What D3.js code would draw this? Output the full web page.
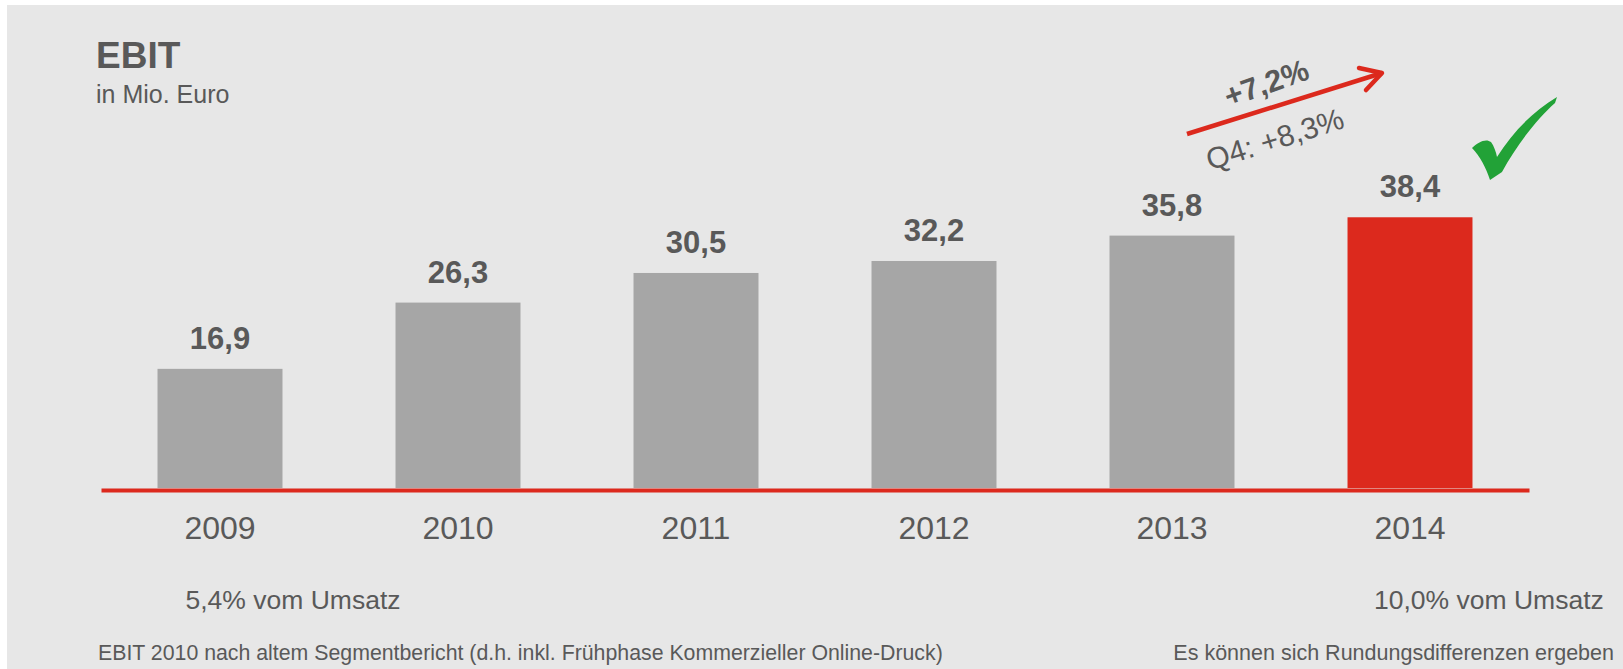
<!DOCTYPE html>
<html>
<head>
<meta charset="utf-8">
<script src="https://cdn.jsdelivr.net/npm/d3@7"></script>
<style>
  body{margin:0;background:#fff;}
  svg{display:block;font-family:"Liberation Sans",Arial,sans-serif;}
</style>
</head>
<body>
<script>
var years=["2009","2010","2011","2012","2013","2014"]
var ebit=[16.9,26.3,30.5,32.2,35.8,38.4]
var labels=["16,9","26,3","30,5","32,2","35,8","38,4"]
var highlight="2014"
var shareNotes=[{year:"2009",text:"5,4% vom Umsatz"},{year:"2014",text:"10,0% vom Umsatz"}]
var growth="+7,2%"
var growthQ4="Q4: +8,3%"
var screen={width:1623,height:669}

var svg=d3.select("body")
          .append("svg")
          .attr("width",screen.width)
          .attr("height",screen.height)

// grey panel
svg.append("rect")
   .attr("x",7)
   .attr("y",5)
   .attr("width",screen.width-7)
   .attr("height",screen.height-5)
   .attr("fill","#e7e7e7")

var x=d3.scaleBand()
        .domain(years)
        .range([101,1529])
        .paddingInner(0.475)
        .paddingOuter(0.2375)
var y=d3.scaleLinear()
        .domain([0,40])
        .range([488,206])

svg.selectAll("rect.bar")
   .data(years)
   .enter()
   .append("rect")
   .attr("class","bar")
   .attr("x",function(d){return x(d)})
   .attr("width",x.bandwidth())
   .attr("y",function(d,i){return y(ebit[i])})
   .attr("height",function(d,i){return y(0)-y(ebit[i])})
   .attr("fill",function(d){
     if(d==highlight){return "#dc291d"}
     else{return "#a6a6a6"}
   })

svg.selectAll("text.val")
   .data(years)
   .enter()
   .append("text")
   .attr("class","val")
   .attr("x",function(d){return x(d)+x.bandwidth()/2})
   .attr("y",function(d,i){return y(ebit[i])-20})
   .attr("text-anchor","middle")
   .attr("font-size","31px")
   .attr("font-weight","bold")
   .attr("fill","#595959")
   .text(function(d,i){return labels[i]})

// red baseline + year labels
var axis=svg.append("g")
            .attr("transform","translate(0,490)")
            .call(d3.axisBottom(x).tickSize(0).tickSizeOuter(0).tickPadding(26))
axis.select(".domain")
    .attr("stroke","#dc291d")
    .attr("stroke-width",4)
axis.selectAll("text")
    .attr("font-size","32px")
    .attr("font-family","Liberation Sans, Arial, sans-serif")
    .attr("fill","#595959")

svg.selectAll("text.share")
   .data(shareNotes)
   .enter()
   .append("text")
   .attr("class","share")
   .attr("x",function(d){
     if(d.year==highlight){return x(d.year)+x.bandwidth()/2-36}
     else{return x(d.year)+28}
   })
   .attr("y",609)
   .attr("font-size","26.5px")
   .attr("fill","#595959")
   .text(function(d){return d.text})

// title
svg.append("text")
   .attr("x",96)
   .attr("y",68)
   .attr("font-size","37px")
   .attr("font-weight","bold")
   .attr("fill","#595959")
   .text("EBIT")
svg.append("text")
   .attr("x",96)
   .attr("y",103)
   .attr("font-size","25px")
   .attr("fill","#595959")
   .text("in Mio. Euro")

// footnotes
svg.append("text")
   .attr("x",98)
   .attr("y",660)
   .attr("font-size","21.3px")
   .attr("fill","#595959")
   .text("EBIT 2010 nach altem Segmentbericht (d.h. inkl. Frühphase Kommerzieller Online-Druck)")
svg.append("text")
   .attr("x",1614)
   .attr("y",660)
   .attr("text-anchor","end")
   .attr("font-size","21.5px")
   .attr("fill","#595959")
   .text("Es können sich Rundungsdifferenzen ergeben")

// growth arrow
svg.append("line")
   .attr("x1",1187).attr("y1",134)
   .attr("x2",1382).attr("y2",73)
   .attr("stroke","#dc291d")
   .attr("stroke-width",4.5)
svg.append("path")
   .attr("d","M1359,68 L1382,73 L1366,90")
   .attr("fill","none")
   .attr("stroke","#dc291d")
   .attr("stroke-width",4.5)
   .attr("stroke-linecap","round")
   .attr("stroke-linejoin","round")
svg.append("text")
   .attr("transform","translate(1270,93) rotate(-19.5)")
   .attr("text-anchor","middle")
   .attr("font-size","30.5px")
   .attr("font-weight","bold")
   .attr("fill","#595959")
   .text(growth)
svg.append("text")
   .attr("transform","translate(1278,149) rotate(-17.5)")
   .attr("text-anchor","middle")
   .attr("font-size","30px")
   .attr("fill","#595959")
   .text(growthQ4)

// check mark
svg.append("path")
   .attr("d","M1472,148 C1478,142 1486,138 1491,142 C1494,146 1496,152 1497,157 C1512,133 1532,112 1557,97 L1555,103 C1536,120 1516,146 1502,172 L1490,180 C1486,168 1480,156 1472,148 Z")
   .attr("fill","#22a237")
</script>
</body>
</html>
